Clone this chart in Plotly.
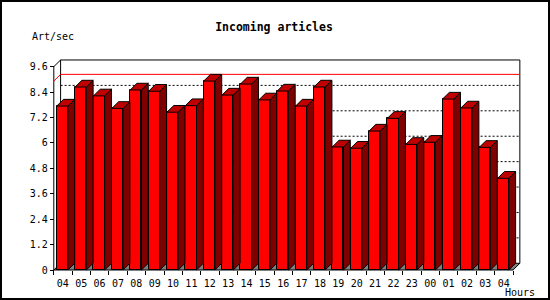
import plotly.graph_objects as go

# ---- data ----
hours = ["04", "05", "06", "07", "08", "09", "10", "11", "12", "13", "14", "15",
         "16", "17", "18", "19", "20", "21", "22", "23", "00", "01", "02", "03", "04"]
values = [7.74, 8.64, 8.22, 7.63, 8.50, 8.44, 7.45, 7.76, 8.92, 8.26, 8.78, 8.03,
          8.45, 7.74, 8.64, 5.81, 5.75, 6.56, 7.16, 5.93, 6.03, 8.07, 7.65, 5.79, 4.33]
y_ticks = [0, 1.2, 2.4, 3.6, 4.8, 6, 7.2, 8.4, 9.6]
y_tick_text = ["0", "1.2", "2.4", "3.6", "4.8", "6", "7.2", "8.4", "9.6"]

# ---- geometry / style ----
W, H = 550, 300
X0PX, XS = 53.8, 18.37      # pixel of x=0 and px per slot
Y0PX, YS = 270.0, 21.18     # pixel of y=0 and px per unit
xr = [-X0PX / XS, (W - X0PX) / XS]
yr = [-(H - Y0PX) / YS, Y0PX / YS]
DX = 0.37
DY = 6.7 / YS
F0, F1 = 0.16, 0.77
n = len(values)
ytop = y_ticks[-1]
vmax = max(values)
FONT = "DejaVu Sans Mono"

fig = go.Figure()

# front faces
fig.add_trace(go.Bar(
    x=[i + (F0 + F1) / 2 for i in range(n)], y=values, width=F1 - F0,
    marker=dict(color="#ff0000", line=dict(color="black", width=1)),
    hoverinfo="skip", showlegend=False))

# side faces
sx, sy = [], []
for i, v in enumerate(values):
    xa, xb = i + F1, i + F1 + DX
    sx += [xa, xb, xb, xa, xa, None]
    sy += [0, DY, v + DY, v, 0, None]
fig.add_trace(go.Scatter(x=sx, y=sy, mode="lines", fill="toself",
                         fillcolor="#800000", line=dict(color="black", width=1),
                         hoverinfo="skip", showlegend=False))

# top faces
tx, ty = [], []
for i, v in enumerate(values):
    a, b = i + F0, i + F1
    tx += [a, b, b + DX, a + DX, a, None]
    ty += [v, v, v + DY, v + DY, v, None]
fig.add_trace(go.Scatter(x=tx, y=ty, mode="lines", fill="toself",
                         fillcolor="#c00000", line=dict(color="black", width=1),
                         hoverinfo="skip", showlegend=False))

shapes = []
# floor
shapes.append(dict(type="path", xref="x", yref="y", layer="below",
                   path=f"M 0,0 L {n},0 L {n+DX},{DY} L {DX},{DY} Z",
                   fillcolor="#808080", line=dict(color="black", width=1)))
# dotted grid on back wall
for v in y_ticks[1:-1]:
    shapes.append(dict(type="line", xref="x", yref="y", layer="below",
                       x0=DX, x1=n + DX, y0=v + DY, y1=v + DY,
                       line=dict(color="black", width=1, dash="2px,2px")))
# back wall outline
shapes.append(dict(type="path", xref="x", yref="y", layer="below",
                   path=f"M {DX},{DY} L {DX},{ytop+DY} L {n+DX},{ytop+DY} L {n+DX},{DY}",
                   line=dict(color="black", width=1)))
# top-left diagonal and front axis
shapes.append(dict(type="path", xref="x", yref="y", layer="below",
                   path=f"M 0,0 L 0,{ytop} L {DX},{ytop+DY}",
                   line=dict(color="black", width=1)))
# max line
shapes.append(dict(type="path", xref="x", yref="y", layer="below",
                   path=f"M 0,{vmax} L {DX},{vmax+DY} L {n+DX},{vmax+DY}",
                   line=dict(color="#ff0000", width=1)))
# outer border
shapes.append(dict(type="rect", xref="paper", yref="paper",
                   x0=1 / W, x1=(W - 1) / W, y0=1 / H, y1=(H - 1) / H,
                   line=dict(color="black", width=2)))

fig.update_layout(
    width=W, height=H, margin=dict(l=0, r=0, t=0, b=0, pad=0),
    paper_bgcolor="white", plot_bgcolor="white", showlegend=False,
    bargap=0,
    title=dict(text="<b>Incoming articles</b>", x=274 / W, xanchor="center",
               y=1 - 27 / H, yanchor="middle",
               font=dict(family=FONT, size=11.5, color="black")),
    xaxis=dict(range=xr, anchor="free", position=(H - Y0PX) / H,
               tickmode="array", tickvals=list(range(n + 1)),
               ticktext=hours + [""], ticklabelshift=int(round(XS / 2)),
               ticks="outside", ticklen=4, tickcolor="black",
               showgrid=False, zeroline=False, showline=False,
               tickfont=dict(family=FONT, size=10, color="black"),
               fixedrange=True, automargin=False),
    yaxis=dict(range=yr, anchor="free", position=X0PX / W,
               tickmode="array", tickvals=y_ticks, ticktext=y_tick_text,
               ticks="outside", ticklen=4, tickcolor="black",
               showgrid=False, zeroline=False, showline=False,
               tickfont=dict(family=FONT, size=10, color="black"),
               fixedrange=True, automargin=False),
    shapes=shapes,
    annotations=[
        dict(text="Art/sec", xref="paper", yref="paper", x=30 / W, y=1 - 37 / H,
             xanchor="left", yanchor="middle", showarrow=False,
             font=dict(family=FONT, size=10, color="black")),
        dict(text="Hours", xref="paper", yref="paper", x=519.5 / W, y=8 / H,
             xanchor="center", yanchor="middle", showarrow=False,
             font=dict(family=FONT, size=10, color="black")),
    ],
)

fig.write_html("out.html")
